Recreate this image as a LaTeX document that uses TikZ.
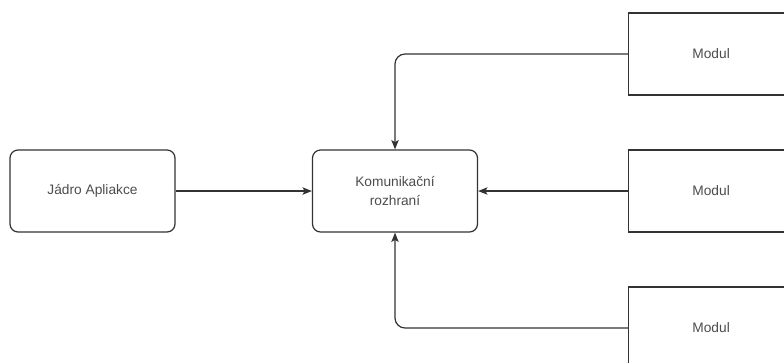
\documentclass[tikz,border=0pt]{standalone}
\usepackage{fontspec}
\setmainfont{Liberation Sans}
\usetikzlibrary{arrows.meta}
\definecolor{edge}{HTML}{333333}
\definecolor{label}{HTML}{4D4D4D}
\begin{document}
\begin{tikzpicture}[x=0.75pt,y=-0.75pt,
  box/.style={draw=edge,line width=0.9pt,fill=white,minimum width=123.75pt,minimum height=61.5pt,
    align=center,font=\fontsize{10.3}{14}\selectfont,text=label,inner sep=0pt},
  rbox/.style={box,rounded corners=6pt},
  arr/.style={draw=edge,line width=0.9pt,-{Stealth[length=7pt,width=5.5pt,inset=1.5pt]},rounded corners=7.5pt}]
\useasboundingbox (0,0) rectangle (784,362);
\clip (0,0) rectangle (784,362);
\node[rbox] (jadro) at (92.5,191) {Jádro Apliakce};
\node[rbox] (kom) at (395,191) {Komunikační\\rozhraní};
\node[box,anchor=west] (m1) at (628,54) {Modul};
\node[box,anchor=west] (m2) at (628,191) {Modul};
\node[box,anchor=west] (m3) at (628,328) {Modul};
\draw[arr] (jadro.east) -- (kom.west);
\draw[arr] (m2.west) -- (kom.east);
\draw[arr] (m1.west) -| (kom.north);
\draw[arr] (m3.west) -| (kom.south);
\end{tikzpicture}
\end{document}
